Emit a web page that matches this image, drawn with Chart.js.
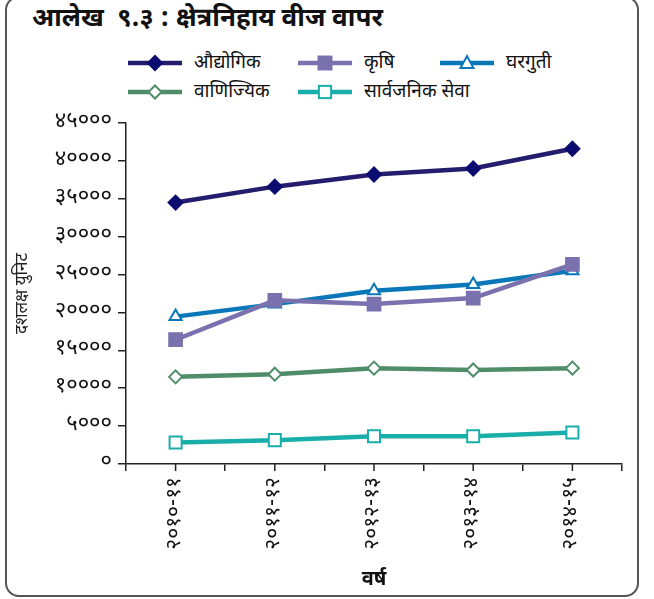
<!DOCTYPE html>
<html>
<head>
<meta charset="utf-8">
<script src="https://cdn.jsdelivr.net/npm/chart.js@4/dist/chart.umd.min.js"></script>
<style>
  body { margin: 0; background: #fff; }
  #wrap { position: relative; width: 654px; height: 599px; overflow: hidden; font-family: "Noto Sans Devanagari", "Noto Sans", sans-serif; }
  #frame { position: absolute; left: 5px; top: -4px; width: 630px; height: 597px; border: 2px solid #555; border-radius: 14px; }
  #title { position: absolute; left: 32px; top: 3px; font-size: 26px; font-weight: bold; color: #111; white-space: pre; }
  #legend { position: absolute; left: 0; top: 0; }
  .item { position: absolute; display: flex; align-items: center; height: 22px; }
  .item span { font-size: 19px; color: #111; margin-left: 12px; white-space: nowrap; }
  canvas { position: absolute; left: 0; top: 0; }
</style>
</head>
<body>
<div id="wrap">
  <div id="frame"></div>
  <div id="title">आलेख  ९.३ : क्षेत्रनिहाय वीज वापर</div>
  <div id="legend"></div>
  <canvas id="chart" width="654" height="599"></canvas>
</div>
<script>
// वर्ष र क्षेत्रगत वीज खपत (दशलक्ष युनिट)
const years = ['२०१०-११', '२०११-१२', '२०१२-१३', '२०१३-१४', '२०१४-१५'];
const industrial = [34500, 36600, 38200, 39000, 41600];
const agriculture = [16400, 21600, 21100, 21900, 26350];
const domestic = [19450, 21100, 22850, 23700, 25500];
const commercial = [11500, 11850, 12650, 12400, 12650];
const publicService = [2850, 3150, 3650, 3650, 4150];

const seriesNames = ['औद्योगिक', 'कृषि', 'घरगुती', 'वाणिज्यिक', 'सार्वजनिक सेवा'];
const seriesData = [industrial, agriculture, domestic, commercial, publicService];
const lineColors = ['#241d6e', '#7a72ae', '#0a78b8', '#4f8d69', '#19aea9'];
const markColors = ['#0c0c70', '#7a72ae', '#0a78b8', '#4f8d69', '#19aea9'];
const markStyles = ['rectRot', 'rect', 'triangle', 'rectRot', 'rect'];
const markFilled = [true, true, false, false, false];
const markRadius = [7, 9, 7, 6.5, 8.5];

const devDigits = '०१२३४५६७८९';
const toDev = (v) => String(v).replace(/[0-9]/g, (d) => devDigits[d]);

// लेजेन्ड (दुई पङ्क्ति)
const legendPos = [[128, 52], [298, 52], [440, 52], [128, 81], [298, 81]];
const markerSvg = (i) => {
    const c = markColors[i], f = markFilled[i] ? c : '#fff';
    let m;
    if (markStyles[i] === 'rectRot') m = `<polygon points="27,${11 - markRadius[i]} ${27 + markRadius[i]},11 27,${11 + markRadius[i]} ${27 - markRadius[i]},11" fill="${f}" stroke="${c}" stroke-width="2"/>`;
    else if (markStyles[i] === 'rect') { const h = markRadius[i] * 0.72; m = `<rect x="${27 - h}" y="${11 - h}" width="${2 * h}" height="${2 * h}" fill="${f}" stroke="${c}" stroke-width="2"/>`; }
    else m = `<polygon points="27,4 33.5,16 20.5,16" fill="${f}" stroke="${c}" stroke-width="2"/>`;
    return `<svg width="54" height="22"><line x1="0" y1="11" x2="54" y2="11" stroke="${lineColors[i]}" stroke-width="4.5"/>${m}</svg>`;
};
const legend = document.getElementById('legend');
seriesNames.forEach((name, i) => {
    const d = document.createElement('div');
    d.className = 'item';
    d.style.left = legendPos[i][0] + 'px';
    d.style.top = legendPos[i][1] + 'px';
    d.innerHTML = markerSvg(i) + `<span>${name}</span>`;
    legend.appendChild(d);
});

// श्रेणीको बीचमा पनि टिक चिन्ह
const centerTicks = {
    id: 'centerTicks',
    afterDraw(chart) {
        const s = chart.scales.x;
        const ctx = chart.ctx;
        ctx.save();
        ctx.strokeStyle = '#222';
        ctx.lineWidth = 1.5;
        years.forEach((_, i) => {
            const px = s.getPixelForValue(i);
            ctx.beginPath();
            ctx.moveTo(px, s.top);
            ctx.lineTo(px, s.top + 7);
            ctx.stroke();
        });
        ctx.restore();
    }
};

const font = "'Noto Sans Devanagari', 'Noto Sans', sans-serif";
const ctx = document.getElementById('chart').getContext('2d');
new Chart(ctx, {
    type: 'line',
    data: {
        labels: years,
        datasets: seriesNames.map((name, i) => ({
            label: name,
            data: seriesData[i],
            borderColor: lineColors[i],
            borderWidth: 4.5,
            pointStyle: markStyles[i],
            pointRadius: markRadius[i],
            pointBackgroundColor: markFilled[i] ? markColors[i] : '#fff',
            pointBorderColor: markColors[i],
            pointBorderWidth: 2,
            tension: 0
        }))
    },
    options: {
        responsive: false,
        animation: false,
        layout: { padding: { left: 0, right: 32, top: 123, bottom: 0 } },
        plugins: { legend: { display: false }, tooltip: { enabled: false } },
        scales: {
            x: {
                offset: true,
                grid: { offset: true, drawOnChartArea: false, tickLength: 7, color: '#222', lineWidth: 1.5 },
                border: { color: '#222', width: 1.5 },
                ticks: { minRotation: 90, maxRotation: 90, color: '#111', padding: 6, font: { family: font, size: 21 } },
                title: { display: true, text: 'वर्ष', color: '#111', font: { family: font, size: 20, weight: 'bold' }, padding: { top: 0, bottom: 6 } },
                afterFit: (s) => { s.height = 135; }
            },
            y: {
                min: 0,
                max: 45000,
                grid: { drawOnChartArea: false, tickLength: 8, color: '#222', lineWidth: 1.5 },
                border: { color: '#222', width: 1.5 },
                ticks: { stepSize: 5000, color: '#111', padding: 6, font: { family: font, size: 22 }, callback: (v) => toDev(v) },
                title: { display: true, text: 'दशलक्ष युनिट', color: '#222', font: { family: font, size: 17 }, padding: { top: 14, bottom: 0 } },
                afterFit: (s) => { s.width = 126; }
            }
        }
    },
    plugins: [centerTicks]
});
</script>
</body>
</html>
